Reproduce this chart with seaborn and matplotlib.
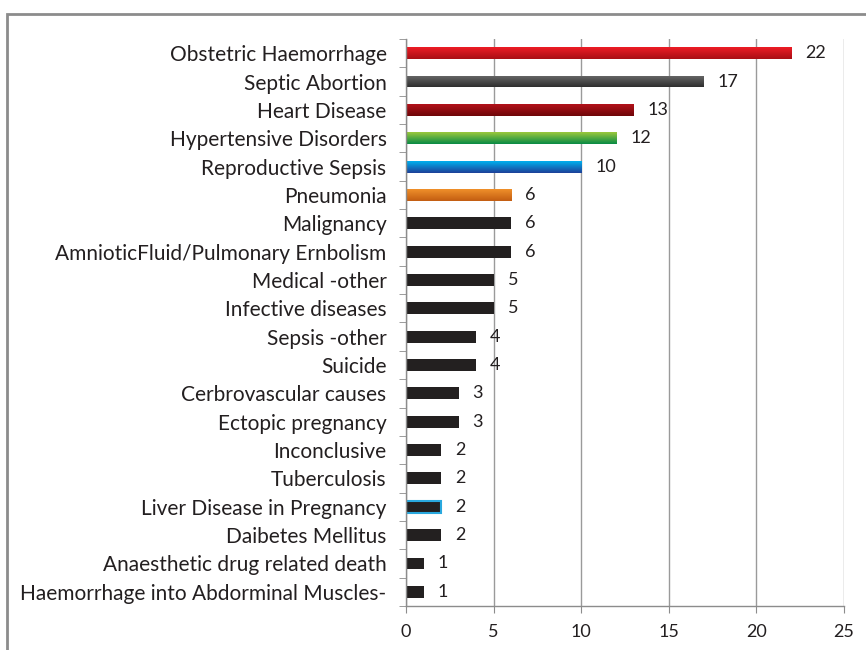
import matplotlib
matplotlib.use("Agg")
import matplotlib.pyplot as plt
import numpy as np
import pandas as pd
import seaborn as sns
from matplotlib.colors import LinearSegmentedColormap
from matplotlib.patches import Rectangle

causes = [
    "Obstetric Haemorrhage",
    "Septic Abortion",
    "Heart Disease",
    "Hypertensive Disorders",
    "Reproductive Sepsis",
    "Pneumonia",
    "Malignancy",
    "AmnioticFluid/Pulmonary Ernbolism",
    "Medical -other",
    "Infective diseases",
    "Sepsis -other",
    "Suicide",
    "Cerbrovascular causes",
    "Ectopic pregnancy",
    "Inconclusive",
    "Tuberculosis",
    "Liver Disease in Pregnancy",
    "Daibetes Mellitus",
    "Anaesthetic drug related death",
    "Haemorrhage into Abdorminal Muscles-",
]
deaths = [22, 17, 13, 12, 10, 6, 6, 6, 5, 5, 4, 4, 3, 3, 2, 2, 2, 2, 1, 1]

# (top colour, bottom colour) for the shaded bars, the rest are plain black
shades = [
    ("#ee1c25", "#a80f15"),
    ("#6a6a6a", "#2e2e2e"),
    ("#b3121a", "#6e0608"),
    ("#9cc83c", "#078a45"),
    ("#00b0ee", "#1e3f98"),
    ("#f0902a", "#c25d12"),
]
plain = "#231f20"

df = pd.DataFrame({"cause": causes, "deaths": deaths})
palette = [s[1] for s in shades] + [plain] * (len(causes) - len(shades))

plt.rcParams["font.family"] = ["Lato", "DejaVu Sans"]
fig = plt.figure(figsize=(8.66, 6.5), dpi=100)
ax = fig.add_axes([406 / 866, 1 - 606 / 650, 438 / 866, 567 / 650])

sns.barplot(data=df, y="cause", x="deaths", hue="cause", palette=palette,
            legend=False, width=0.42, ax=ax, orient="h")

# vertical gradient on the coloured bars
for i, patch in enumerate(ax.patches[:len(shades)]):
    top, bottom = shades[i]
    cmap = LinearSegmentedColormap.from_list(f"g{i}", [top, bottom])
    x0, y0 = patch.get_x(), patch.get_y()
    w, h = patch.get_width(), patch.get_height()
    grad = np.linspace(0, 1, 64).reshape(-1, 1)
    im = ax.imshow(grad, cmap=cmap, aspect="auto", extent=(x0, x0 + w, y0 + h, y0),
                   zorder=patch.get_zorder() + 0.1, interpolation="bicubic")
    im.set_clip_path(patch)

liver = causes.index("Liver Disease in Pregnancy")
ax.patches[liver].set_edgecolor("#29a8de")
ax.patches[liver].set_linewidth(1.5)

for i, v in enumerate(deaths):
    ax.annotate(str(v), (v, i), xytext=(10, 0), textcoords="offset points",
                va="center", ha="left", fontsize=13, color="#231f20")

ax.set_xlim(0, 25)
ax.set_ylim(19.5, -0.5)
ax.set_xticks(range(0, 26, 5))
ax.set_xlabel("")
ax.set_ylabel("")
ax.grid(axis="x", color="#9a9a9a", linewidth=1)
ax.set_axisbelow(True)
for side in ["top", "right"]:
    ax.spines[side].set_visible(False)
for side in ["left", "bottom"]:
    ax.spines[side].set_color("#8c8c8c")
    ax.spines[side].set_linewidth(1)

ax.set_yticks(np.arange(-0.5, 20, 1), minor=True)
ax.tick_params(axis="y", which="major", length=0, pad=14, labelsize=15, labelcolor="#231f20")
ax.tick_params(axis="y", which="minor", length=5, color="#8c8c8c")
ax.tick_params(axis="x", length=5, color="#8c8c8c", labelsize=13, labelcolor="#231f20", pad=8)

# outer chart frame
fig.patches.append(Rectangle((7 / 866, -0.1), 1.2, 1 - 14 / 650 + 0.1,
                             transform=fig.transFigure, fill=False,
                             edgecolor="#8c8c8c", linewidth=2))

fig.savefig("out.png", dpi=100)
